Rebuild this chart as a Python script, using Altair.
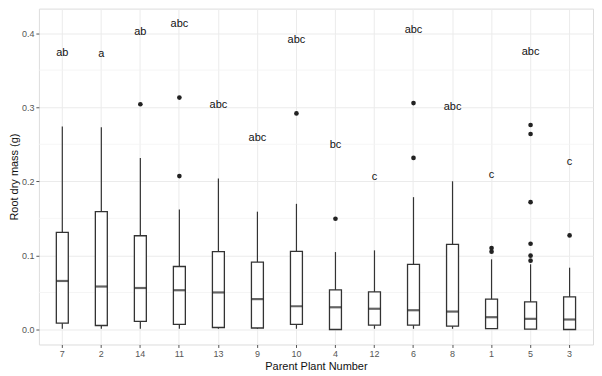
import altair as alt
import pandas as pd

parents = ["7", "2", "14", "11", "13", "9", "10", "4", "12", "6", "8", "1", "5", "3"]
whisk_lo = [0.001, 0.001, 0.001, 0.001, 0.001, 0.001, 0.001, 0.000, 0.001, 0.001, 0.001, 0.001, 0.0004, 0.000]
q1 = [0.0085, 0.0054, 0.011, 0.007, 0.0027, 0.002, 0.007, 0.000, 0.0058, 0.0058, 0.0045, 0.0013, 0.0004, 0.000]
median = [0.0655, 0.058, 0.056, 0.053, 0.050, 0.041, 0.0314, 0.030, 0.028, 0.026, 0.0242, 0.0166, 0.0144, 0.0135]
q3 = [0.131, 0.159, 0.1265, 0.085, 0.105, 0.091, 0.1054, 0.0534, 0.0507, 0.088, 0.1148, 0.041, 0.0373, 0.044]
whisk_hi = [0.274, 0.273, 0.2315, 0.162, 0.2037, 0.159, 0.1696, 0.1045, 0.1068, 0.1786, 0.200, 0.0947, 0.088, 0.0834]

letters = ["ab", "a", "ab", "abc", "abc", "abc", "abc", "bc", "c", "abc", "abc", "c", "abc", "c"]
letter_y = [0.373, 0.372, 0.402, 0.412, 0.303, 0.258, 0.391, 0.2485, 0.206, 0.4047, 0.300, 0.208, 0.375, 0.226]

outlier_parent = ["14", "11", "11", "10", "4", "6", "6", "1", "1", "5", "5", "5", "5", "5", "5", "3"]
outlier_value = [0.304, 0.313, 0.207, 0.2916, 0.1494, 0.3055, 0.2315, 0.110, 0.105,
                 0.276, 0.2638, 0.1718, 0.1157, 0.0996, 0.0929, 0.127]

minor_grid = [0.05, 0.15, 0.25, 0.35]

box_df = pd.DataFrame({"parent": parents, "lo": whisk_lo, "q1": q1, "med": median,
                       "q3": q3, "hi": whisk_hi, "label": letters, "ly": letter_y})
out_df = pd.DataFrame({"parent": outlier_parent, "value": outlier_value})
grid_df = pd.DataFrame({"g": minor_grid})

ydom = [-0.0202, 0.433]
xscale = alt.Scale(domain=parents, paddingInner=0, paddingOuter=0.1)
yscale = alt.Scale(domain=ydom, nice=False, zero=False)

xaxis = alt.Axis(title="Parent Plant Number", labelAngle=0, bandPosition=0.5,
                 grid=True, gridColor="#ebebeb", gridWidth=1,
                 tickColor="#555555", tickSize=3, labelColor="#555555",
                 labelFontSize=9, labelFont="Liberation Sans", labelPadding=2,
                 titleFont="Liberation Sans", titleFontSize=11, titleFontWeight="normal",
                 titleColor="#111111", titlePadding=2, domain=False)
yaxis = alt.Axis(title="Root dry mass (g)", values=[0.0, 0.1, 0.2, 0.3, 0.4], format=".1f",
                 grid=True, gridColor="#ebebeb", gridWidth=1,
                 tickColor="#555555", tickSize=3, labelColor="#555555",
                 labelFontSize=9, labelFont="Liberation Sans", labelPadding=2,
                 titleFont="Liberation Sans", titleFontSize=11, titleFontWeight="normal",
                 titleColor="#111111", titlePadding=2, domain=False)

base = alt.Chart(box_df)

grid = alt.Chart(grid_df).mark_rule(color="#f2f2f2", strokeWidth=0.8).encode(
    y=alt.Y("g:Q", scale=yscale, axis=yaxis)
)

whisk = base.mark_rule(color="#333333", strokeWidth=1.2).encode(
    x=alt.X("parent:N", scale=xscale, axis=xaxis, sort=parents),
    y=alt.Y("lo:Q", scale=yscale, axis=yaxis),
    y2="hi:Q",
)

box = base.mark_bar(size=12, fill="white", stroke="#333333", strokeWidth=1.3).encode(
    x=alt.X("parent:N", scale=xscale, sort=parents),
    y=alt.Y("q1:Q", scale=yscale),
    y2="q3:Q",
)

med = base.mark_tick(size=12, thickness=2.2, color="#222222").encode(
    x=alt.X("parent:N", scale=xscale, sort=parents),
    y=alt.Y("med:Q", scale=yscale),
)

pts = alt.Chart(out_df).mark_circle(size=22, color="#222222", opacity=1).encode(
    x=alt.X("parent:N", scale=xscale, sort=parents),
    y=alt.Y("value:Q", scale=yscale),
)

txt = base.mark_text(fontSize=11, font="Liberation Sans", color="#111111", baseline="middle").encode(
    x=alt.X("parent:N", scale=xscale, sort=parents),
    y=alt.Y("ly:Q", scale=yscale),
    text="label:N",
)

chart = alt.layer(grid, whisk, box, med, pts, txt).properties(
    width=556, height=337, padding=0,
).configure_view(
    stroke="#999999", strokeWidth=1.2, fill="white"
).configure(background="white")

chart.save("out.html", embed_options={"renderer": "svg", "actions": False})
